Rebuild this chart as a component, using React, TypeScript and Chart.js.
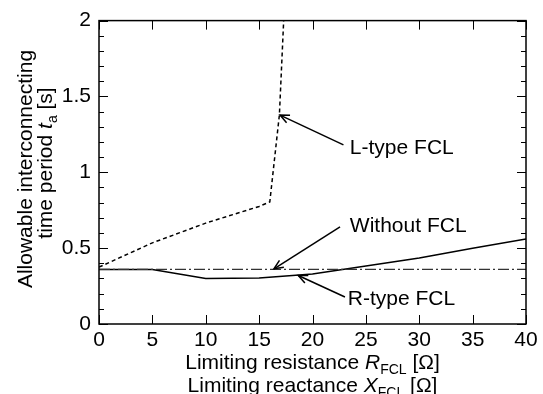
import React, { useEffect, useRef } from "react";
import { Chart, registerables } from "chart.js";

Chart.register(...registerables);

// ---- Data ----
const withoutX = [0, 40];
const withoutY = [0.36, 0.36];

const rTypeX = [0, 5, 10, 15, 20, 25, 30, 35, 40];
const rTypeY = [0.36, 0.36, 0.3, 0.303, 0.33, 0.383, 0.435, 0.5, 0.56];

const lTypeX = [0, 5, 10, 15, 16, 16.9, 17.3];
const lTypeY = [0.375, 0.535, 0.665, 0.775, 0.805, 1.38, 2.0];

const xTicks = [0, 5, 10, 15, 20, 25, 30, 35, 40];
const yMajorTicks = [0, 0.5, 1, 1.5, 2];
const yMinorTicks = [0.1, 0.2, 0.3, 0.4, 0.6, 0.7, 0.8, 0.9, 1.1, 1.2, 1.3, 1.4, 1.6, 1.7, 1.8, 1.9];

// annotations: label text, text anchor (data units), arrow tail & head (data units)
const annLabels = ["L-type FCL", "Without FCL", "R-type FCL"];
const annTextX = [23.5, 23.5, 23.3];
const annTextY = [1.157, 0.647, 0.163];
const annTailX = [22.9, 22.58, 23.04];
const annTailY = [1.181, 0.641, 0.178];
const annHeadX = [16.96, 16.39, 18.67];
const annHeadY = [1.377, 0.364, 0.32];

const FONT = "'Liberation Sans', Arial, Helvetica, sans-serif";

type Seg = { t: string; it?: boolean; sub?: boolean };

function segFont(s: Seg, size: number) {
  const sz = s.sub ? Math.round(size * 0.68) : size;
  return `${s.it ? "italic " : ""}${sz}px ${FONT}`;
}

function drawSegs(ctx: CanvasRenderingContext2D, segs: Seg[], cx: number, baseline: number, size: number) {
  let total = 0;
  for (const s of segs) {
    ctx.font = segFont(s, size);
    total += ctx.measureText(s.t).width;
  }
  let x = cx - total / 2;
  ctx.textAlign = "left";
  ctx.textBaseline = "alphabetic";
  for (const s of segs) {
    ctx.font = segFont(s, size);
    ctx.fillText(s.t, x, baseline + (s.sub ? size * 0.22 : 0));
    x += ctx.measureText(s.t).width;
  }
}

function arrow(ctx: CanvasRenderingContext2D, x0: number, y0: number, x1: number, y1: number) {
  ctx.beginPath();
  ctx.moveTo(x0, y0);
  ctx.lineTo(x1, y1);
  ctx.stroke();
  const ang = Math.atan2(y1 - y0, x1 - x0);
  const L = 10;
  const a = 0.42;
  ctx.beginPath();
  ctx.moveTo(x1 - L * Math.cos(ang - a), y1 - L * Math.sin(ang - a));
  ctx.lineTo(x1, y1);
  ctx.lineTo(x1 - L * Math.cos(ang + a), y1 - L * Math.sin(ang + a));
  ctx.stroke();
}

const framePlugin = {
  id: "framePlugin",
  afterDraw(chart: any) {
    const ctx: CanvasRenderingContext2D = chart.ctx;
    const { left, right, top, bottom } = chart.chartArea;
    const xs = chart.scales.x;
    const ys = chart.scales.y;
    ctx.save();
    ctx.strokeStyle = "#000";
    ctx.fillStyle = "#000";
    // ticks
    ctx.lineWidth = 1;
    ctx.beginPath();
    for (const v of xTicks) {
      const px = Math.round(xs.getPixelForValue(v)) + 0.5;
      ctx.moveTo(px, bottom);
      ctx.lineTo(px, bottom - 9);
      ctx.moveTo(px, top);
      ctx.lineTo(px, top + 9);
    }
    for (const v of yMajorTicks) {
      const py = Math.round(ys.getPixelForValue(v)) + 0.5;
      ctx.moveTo(left, py);
      ctx.lineTo(left + 9, py);
      ctx.moveTo(right, py);
      ctx.lineTo(right - 9, py);
    }
    for (const v of yMinorTicks) {
      const py = Math.round(ys.getPixelForValue(v)) + 0.5;
      ctx.moveTo(left, py);
      ctx.lineTo(left + 5, py);
      ctx.moveTo(right, py);
      ctx.lineTo(right - 5, py);
    }
    ctx.stroke();
    // frame
    ctx.lineWidth = 1.5;
    ctx.strokeRect(left, top, right - left, bottom - top);

    // annotations
    ctx.lineWidth = 1.5;
    for (let i = 0; i < annLabels.length; i++) {
      arrow(
        ctx,
        xs.getPixelForValue(annTailX[i]),
        ys.getPixelForValue(annTailY[i]),
        xs.getPixelForValue(annHeadX[i]),
        ys.getPixelForValue(annHeadY[i])
      );
      ctx.font = `21px ${FONT}`;
      ctx.textAlign = "left";
      ctx.textBaseline = "middle";
      ctx.fillText(annLabels[i], xs.getPixelForValue(annTextX[i]), ys.getPixelForValue(annTextY[i]));
    }

    // x title
    const cx = (left + right) / 2;
    drawSegs(
      ctx,
      [{ t: "Limiting resistance " }, { t: "R", it: true }, { t: "FCL", sub: true }, { t: " [Ω]" }],
      cx,
      bottom + 45,
      21
    );
    drawSegs(
      ctx,
      [{ t: "Limiting reactance " }, { t: "X", it: true }, { t: "FCL", sub: true }, { t: " [Ω]" }],
      cx,
      bottom + 68,
      21
    );

    // y title
    ctx.save();
    ctx.translate(32, 169);
    ctx.rotate(-Math.PI / 2);
    drawSegs(ctx, [{ t: "Allowable interconnecting" }], 0, 0, 21);
    ctx.restore();
    ctx.save();
    ctx.translate(52, 163);
    ctx.rotate(-Math.PI / 2);
    drawSegs(
      ctx,
      [{ t: "time period " }, { t: "t", it: true }, { t: "a", sub: true }, { t: " [s]" }],
      0,
      0,
      21
    );
    ctx.restore();

    ctx.restore();
  },
};

function pts(xa: number[], ya: number[]) {
  return xa.map((x, i) => ({ x, y: ya[i] }));
}

export default function App() {
  const ref = useRef<HTMLCanvasElement | null>(null);
  useEffect(() => {
    if (!ref.current) return;
    const chart = new Chart(ref.current, {
      type: "scatter",
      data: {
        datasets: [
          {
            label: "L-type FCL",
            data: pts(lTypeX, lTypeY),
            showLine: true,
            borderColor: "#000",
            borderWidth: 1.5,
            borderDash: [4, 3],
            pointRadius: 0,
          },
          {
            label: "Without FCL",
            data: pts(withoutX, withoutY),
            showLine: true,
            borderColor: "#333",
            borderWidth: 1.4,
            borderDash: [11, 3, 2, 3],
            pointRadius: 0,
          },
          {
            label: "R-type FCL",
            data: pts(rTypeX, rTypeY),
            showLine: true,
            borderColor: "#000",
            borderWidth: 1.5,
            pointRadius: 0,
          },
        ],
      },
      options: {
        responsive: false,
        animation: false,
        devicePixelRatio: 1,
        layout: { padding: { top: 18, right: 17, left: 0, bottom: 0 } },
        plugins: { legend: { display: false }, tooltip: { enabled: false } },
        scales: {
          x: {
            type: "linear",
            min: 0,
            max: 40,
            ticks: { stepSize: 5, color: "#000", font: { family: FONT, size: 21 }, padding: 4 },
            grid: { display: false, drawTicks: false },
            border: { display: false },
            afterFit: (s: any) => {
              s.height = 70;
            },
          },
          y: {
            min: 0,
            max: 2,
            ticks: {
              stepSize: 0.5,
              color: "#000",
              font: { family: FONT, size: 21 },
              padding: 8,
              callback: (v: any) => String(Number(v)),
            },
            grid: { display: false, drawTicks: false },
            border: { display: false },
            afterFit: (s: any) => {
              s.width = 99;
            },
          },
        },
      },
      plugins: [framePlugin],
    } as any);
    return () => chart.destroy();
  }, []);
  return (
    <div style={{ position: "fixed", left: 0, top: 0, width: 543, height: 394, background: "#fff" }}>
      <canvas ref={ref} width={543} height={394} />
    </div>
  );
}
